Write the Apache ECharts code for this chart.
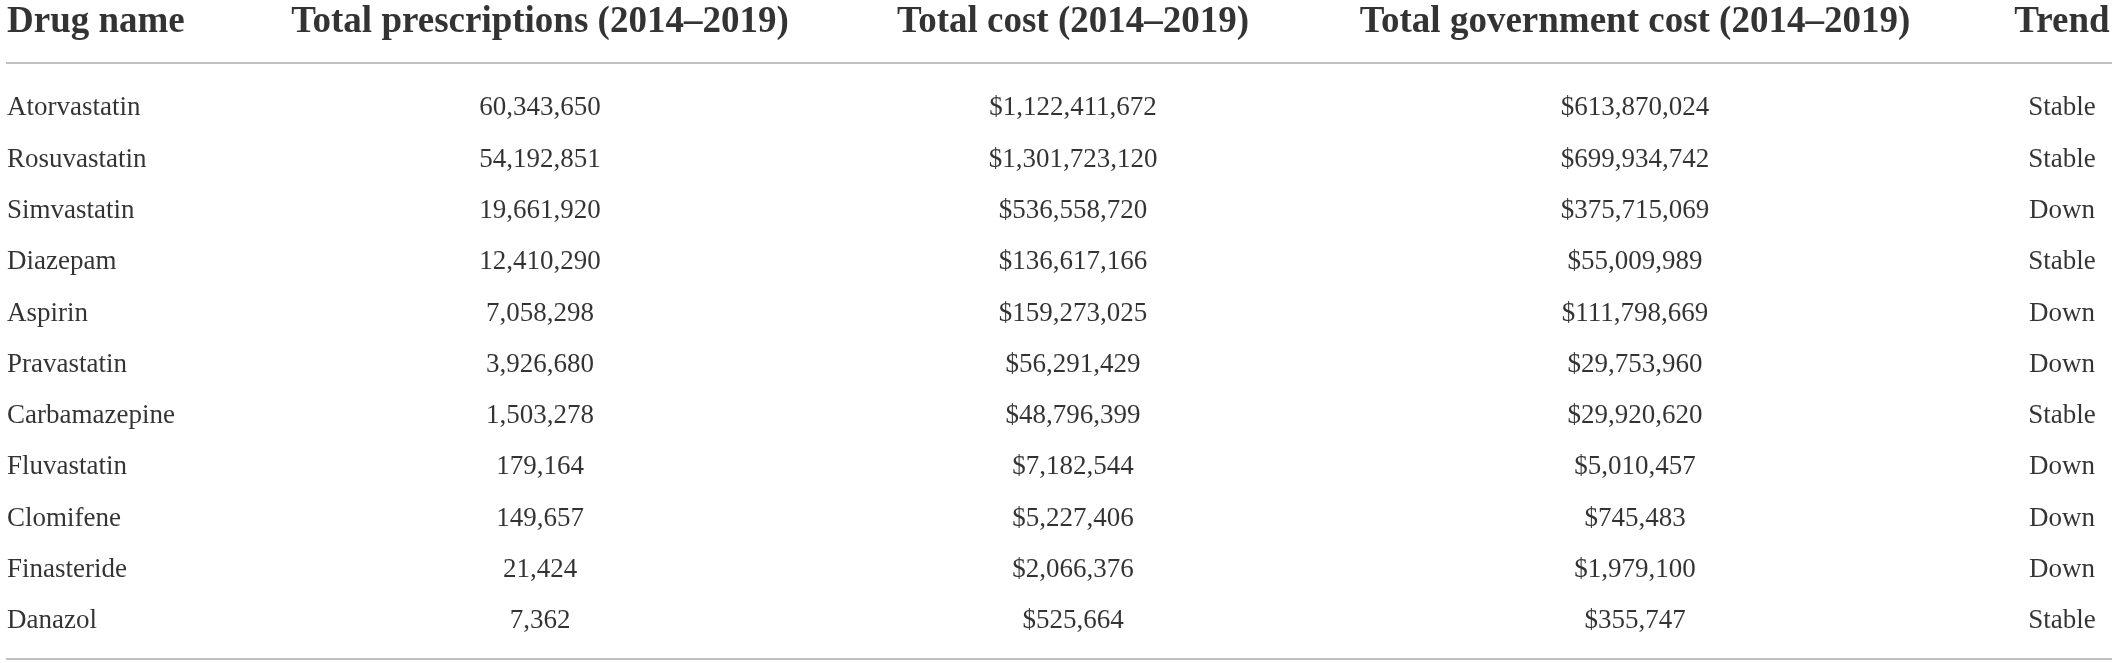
<!DOCTYPE html>
<html>
<head>
<meta charset="utf-8">
<script src="https://cdn.jsdelivr.net/npm/echarts@6/dist/echarts.min.js"></script>
<style>
html, body { margin: 0; padding: 0; background: #fff; }
#table_chart { width: 2117px; height: 663px; }
</style>
</head>
<body>
<div id="table_chart"></div>
<script>
var headers		= ['Drug name', 'Total prescriptions (2014\u20132019)', 'Total cost (2014\u20132019)', 'Total government cost (2014\u20132019)', 'Trend'];
var drugs		= ['Atorvastatin', 'Rosuvastatin', 'Simvastatin', 'Diazepam', 'Aspirin', 'Pravastatin', 'Carbamazepine', 'Fluvastatin', 'Clomifene', 'Finasteride', 'Danazol'];
var prescriptions	= [60343650, 54192851, 19661920, 12410290, 7058298, 3926680, 1503278, 179164, 149657, 21424, 7362];
var total_cost		= [1122411672, 1301723120, 536558720, 136617166, 159273025, 56291429, 48796399, 7182544, 5227406, 2066376, 525664];
var gov_cost		= [613870024, 699934742, 375715069, 55009989, 111798669, 29753960, 29920620, 5010457, 745483, 1979100, 355747];
var trend		= ['Stable', 'Stable', 'Down', 'Stable', 'Down', 'Down', 'Stable', 'Down', 'Down', 'Down', 'Stable'];

// layout: column anchors on the x axis, header / rule rows on the y axis (row index units)
var col_x	= [1, 534, 1067, 1629, 2056];
var header_row	= -1.68;
var rule_rows	= [-0.89, 10.735];

function fmt_num(n) {
    return String(n).replace(/\B(?=(\d{3})+(?!\d))/g, ',');
}
function fmt_money(n) {
    return '$' + fmt_num(n);
}

function make_column(col, texts, bold) {
    var data = [];
    for (var i = 0; i < texts.length; i++) {
	data.push([col_x[col], bold ? header_row : i, texts[i]]);
    }
    return {
	type: 'scatter',
	symbolSize: 1,
	itemStyle: { color: 'rgba(0,0,0,0)' },
	silent: true,
	label: {
	    show: true,
	    position: 'inside',
	    align: col == 0 ? 'left' : 'center',
	    verticalAlign: 'middle',
	    color: '#000',
	    textBorderWidth: 0,
	    fontFamily: 'Liberation Serif',
	    fontWeight: bold ? 'bold' : 'normal',
	    fontSize: bold ? 37 : 27,
	    formatter: function(p) { return p.value[2]; }
	},
	data: data
    };
}

var series = [];
for (var c = 0; c < headers.length; c++) {
    series.push(make_column(c, [headers[c]], true));
}
series.push(make_column(0, drugs, false));
series.push(make_column(1, prescriptions.map(fmt_num), false));
series.push(make_column(2, total_cost.map(fmt_money), false));
series.push(make_column(3, gov_cost.map(fmt_money), false));
series.push(make_column(4, trend, false));

// horizontal rules
series[0].markLine = {
    silent: true,
    symbol: 'none',
    label: { show: false },
    lineStyle: { color: '#c0c0c0', width: 2, type: 'solid' },
    data: rule_rows.map(function(r) { return { yAxis: r }; })
};

var option = {
    animation: false,
    backgroundColor: '#fff',
    grid: { left: 6, right: 5, top: 0, bottom: 0 },
    xAxis: {
	type: 'value',
	min: 0,
	max: 2106,
	show: false
    },
    yAxis: {
	type: 'value',
	inverse: true,
	min: -2.11,
	max: 10.814,
	show: false
    },
    series: series
};

var table_chart = echarts.init(document.getElementById('table_chart'));
table_chart.setOption(option);
</script>
</body>
</html>
